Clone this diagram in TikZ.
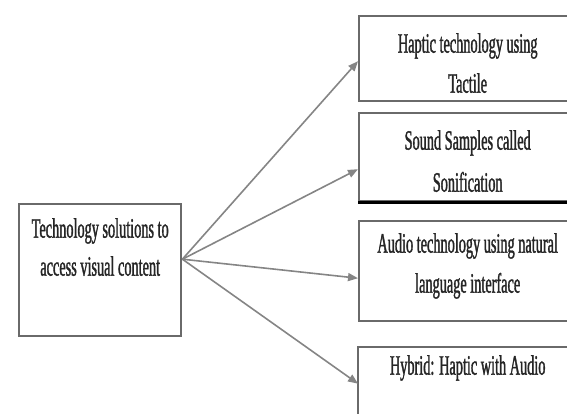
\documentclass[tikz,border=0pt]{standalone}
\usepackage{fontspec}
\setmainfont{Liberation Serif}
\newfontfamily\sqfont[FakeStretch=0.51,FakeBold=1.2]{Liberation Serif}
\usetikzlibrary{arrows.meta,calc}
\definecolor{boxgray}{HTML}{6A6A6A}
\definecolor{arrgray}{HTML}{858585}
\definecolor{txt}{HTML}{252525}
\begin{document}
\begin{tikzpicture}[x=1pt,y=1pt,
  box/.style={draw=boxgray, line width=2.4pt, anchor=north west, inner sep=0pt},
  lbl/.style={text=txt, align=center, anchor=north, inner sep=0pt, font=\sqfont\fontsize{28}{40}\selectfont},
  conn/.style={draw=arrgray, line width=1.6pt, -{Triangle[length=10pt,width=8pt]}}]
\useasboundingbox (0,0) rectangle (567,414);
% boxes
\node[box, minimum width=162pt, minimum height=132pt] (src) at (18,211) {};
\node[box, minimum width=217pt, minimum height=85pt] (b1) at (358,399) {};
\node[box, minimum width=217pt, minimum height=88pt] (b2) at (358,302) {};
\node[box, minimum width=217pt, minimum height=100pt] (b3) at (358,194) {};
\node[box, draw=none, minimum width=217pt, minimum height=65pt] (b4) at (358,67) {};
\draw[boxgray, line width=2.4pt] (b4.south west) -- (b4.north west) -- (b4.north east);
\draw[black!25, line width=0.8pt] (b4.south west) -- (b4.south east);
\draw[black, line width=2.4pt] (b2.south west) -- (b2.south east);
% texts
\node[lbl, font=\sqfont\fontsize{28}{38}\selectfont] (t0) at (src.center |- 0,196) {Technology solutions to\\access visual content};
\node[lbl] (t1) at (b1.center |- 0,381) {Haptic technology using\\Tactile};
\node[lbl, font=\sqfont\fontsize{28}{42}\selectfont] (t2) at (b2.center |- 0,284) {Sound Samples called\\Sonification};
\node[lbl] (t3) at (b3.center |- 0,181) {Audio technology using natural\\language interface};
\node[lbl] (t4) at (b4.center |- 0,59) {Hybrid: Haptic with Audio};
% connectors
\coordinate (o) at ([yshift=11pt]src.east);
\draw[conn] (o) -- ([yshift=-2.5pt]b1.west);
\draw[conn] (o) -- ([yshift=-12pt]b2.west);
\draw[conn] (o) -- ([yshift=-7pt]b3.west);
\draw[conn] (o) -- ([yshift=-3pt]b4.west);
\end{tikzpicture}
\end{document}
